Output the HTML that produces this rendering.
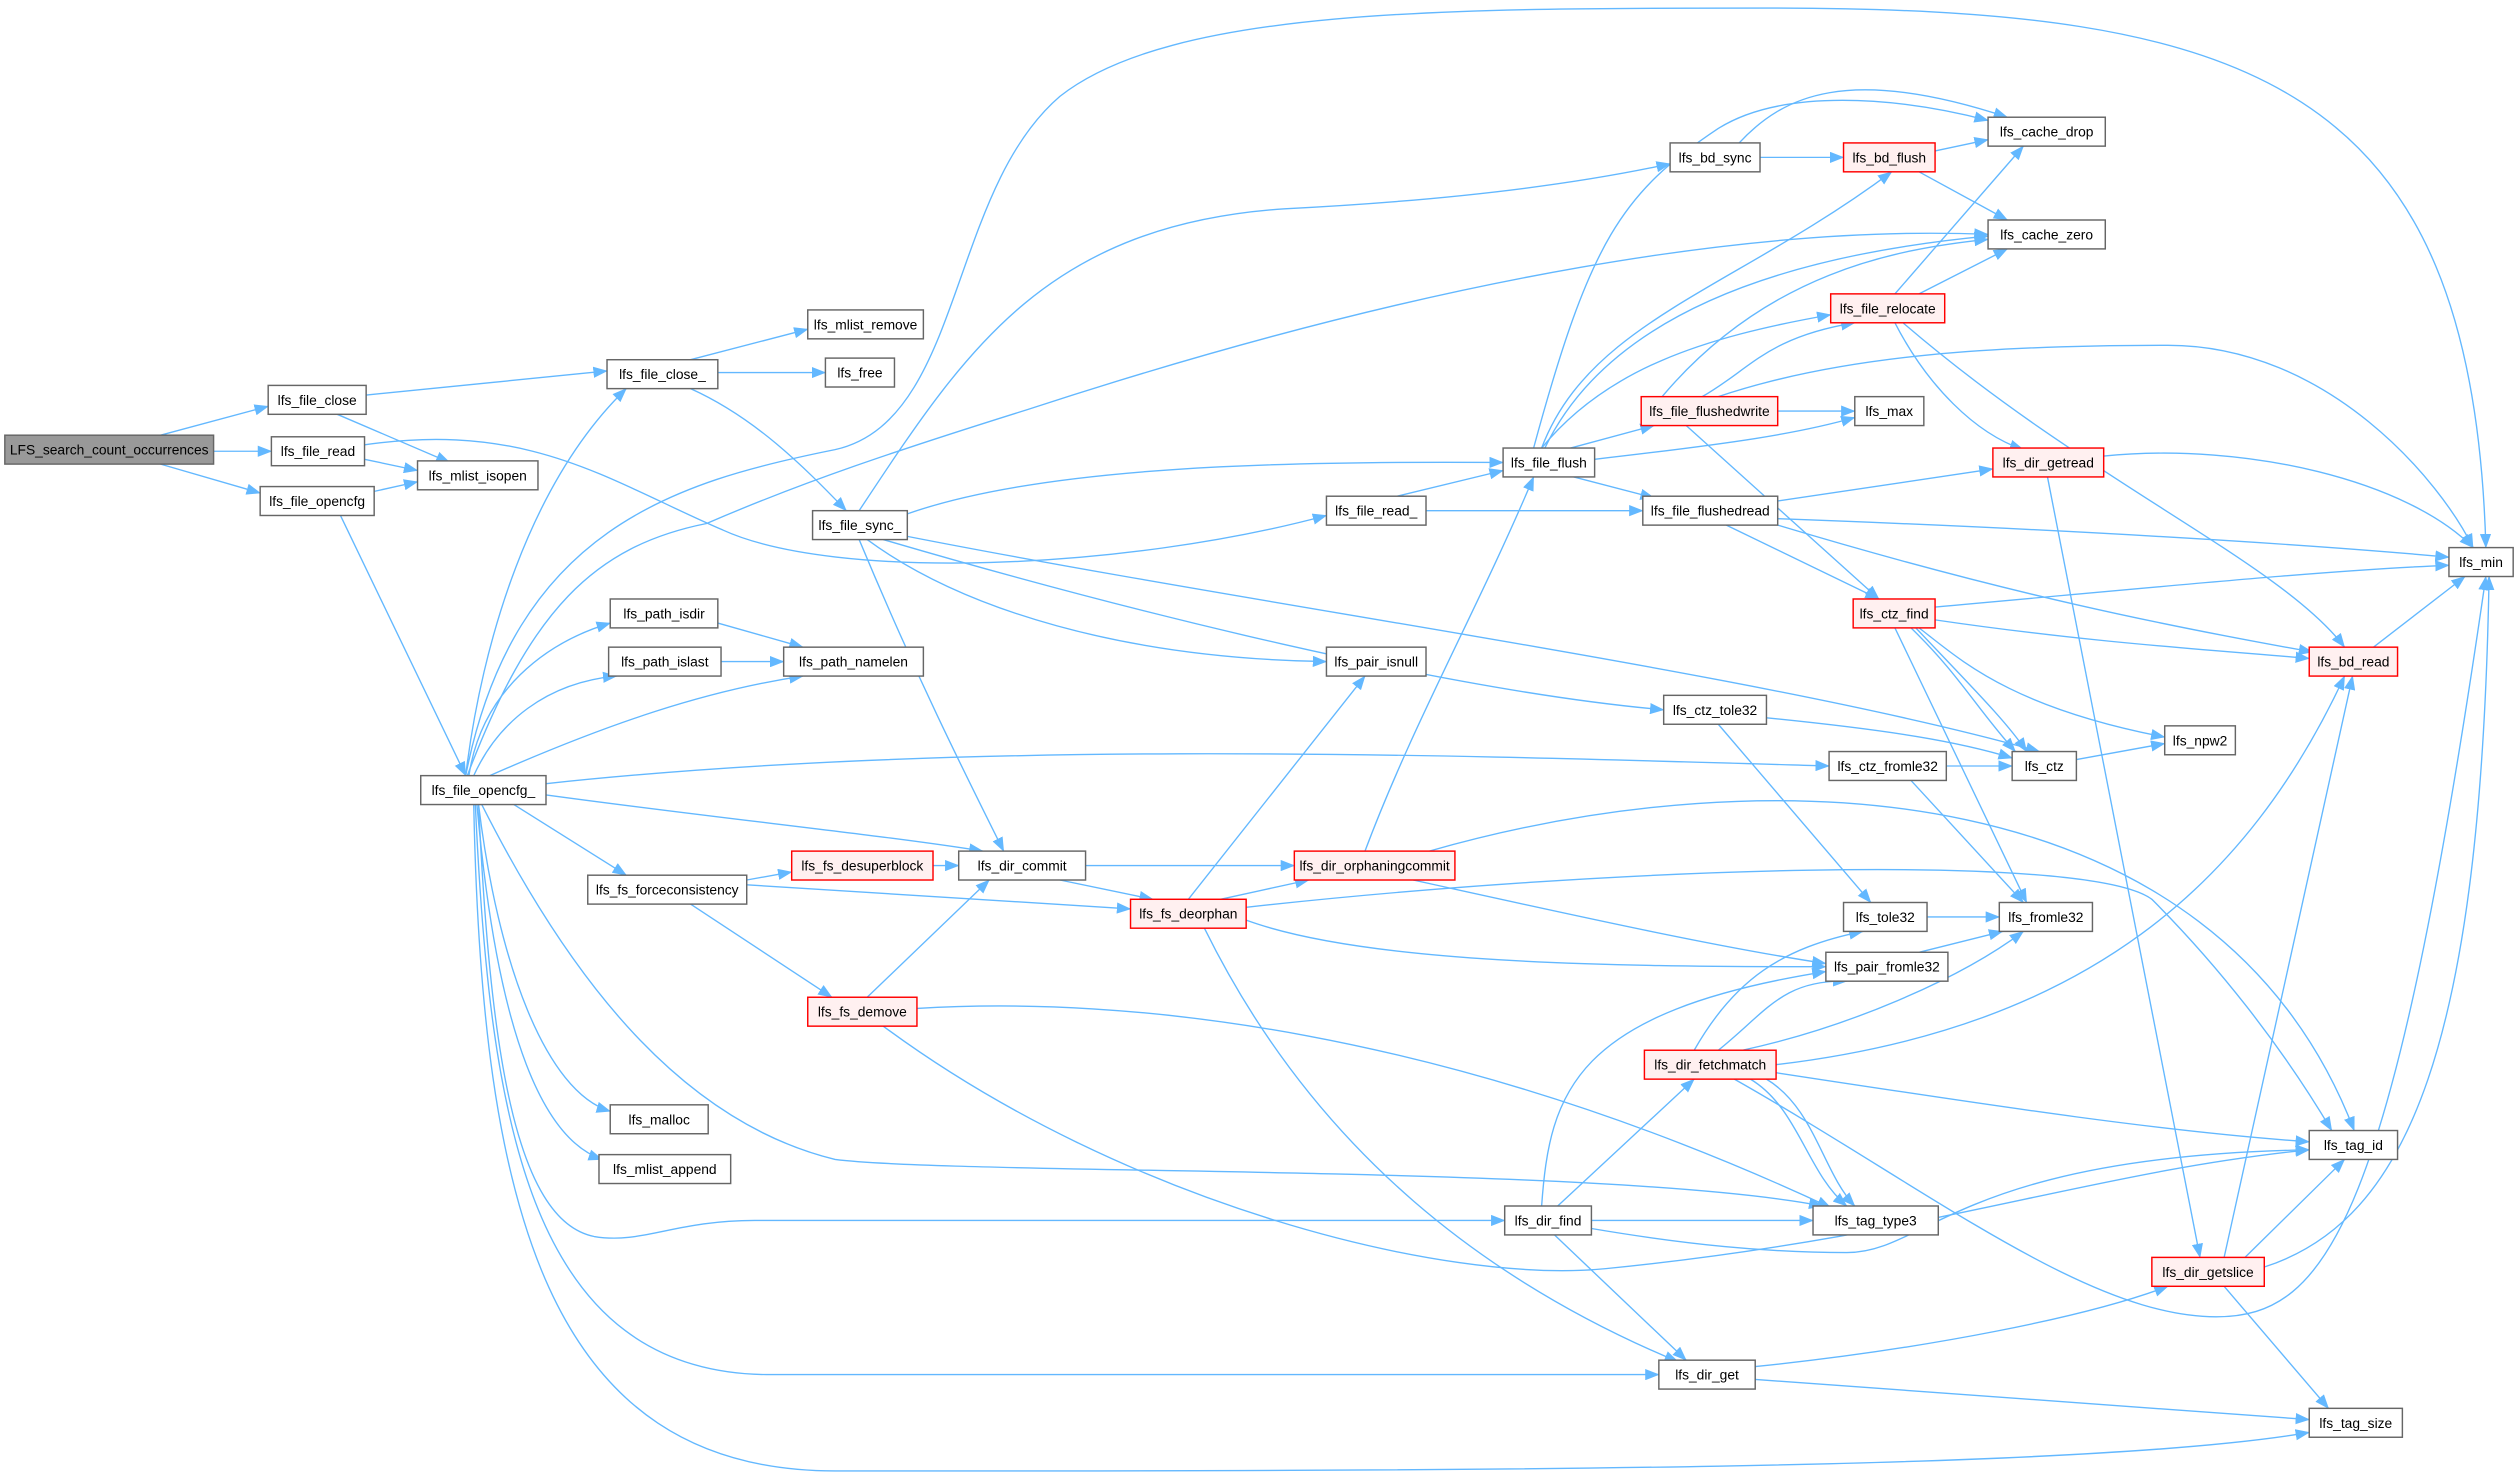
<!DOCTYPE html>
<html><head><meta charset="utf-8"><style>
html,body{margin:0;padding:0;background:#fff;}
svg{display:block;}
text{font-family:"Liberation Sans",Arial,sans-serif;font-size:8.6px;fill:#000;text-anchor:middle;dominant-baseline:central;}
.e{fill:none;stroke:#63b8ff;stroke-width:0.85;marker-end:url(#a);}
.n{fill:#fff;stroke:#666;stroke-width:0.9;}
.r{fill:#fff0f0;stroke:#ff0000;stroke-width:0.9;}
.g{fill:#999;stroke:#666;stroke-width:0.9;}
</style></head><body>
<svg width="2518" height="1479" viewBox="0 0 1568 921" xmlns="http://www.w3.org/2000/svg">
<defs><marker id="a" markerUnits="userSpaceOnUse" markerWidth="9" markerHeight="7" refX="8.5" refY="3.5" orient="auto"><path d="M0,0 L9,3.5 L0,7 z" fill="#63b8ff"/></marker></defs>
<g>
<path class="e" d="M100,271 L167,253"/>
<path class="e" d="M133,281 L169,281"/>
<path class="e" d="M100,289 L162,307"/>
<path class="e" d="M228,246 L378,231"/>
<path class="e" d="M210,258 L280,288"/>
<path class="e" d="M227,286 L260,293"/>
<path class="e" d="M227,277 C330,262 380,300 450,330 C520,362 700,355 826,321"/>
<path class="e" d="M233,306 L260,300"/>
<path class="e" d="M212,321 L290,483"/>
<path class="e" d="M430,224 L503,205"/>
<path class="e" d="M447,232 L514,232"/>
<path class="e" d="M430,242 C470,260 500,290 527,318"/>
<path class="e" d="M290,483 C300,400 330,300 390,242"/>
<path class="e" d="M290,483 C320,330 420,300 520,280 C600,262 590,120 660,60 C730,5 900,5 1100,5 C1400,5 1540,50 1548,341"/>
<path class="e" d="M291,483 C330,380 370,340 440,326 C500,300 560,280 640,255 C900,170 1100,140 1238,146"/>
<path class="e" d="M292,483 C300,430 340,400 380,388"/>
<path class="e" d="M295,483 C310,450 340,425 384,421"/>
<path class="e" d="M305,483 C380,450 440,430 500,421"/>
<path class="e" d="M447,388 L500,403"/>
<path class="e" d="M449,412 L488,412"/>
<path class="e" d="M340,488 C600,460 900,470 1139,477"/>
<path class="e" d="M340,495 C450,510 550,520 612,530"/>
<path class="e" d="M320,501 L390,545"/>
<path class="e" d="M298,501 C310,600 340,680 380,692"/>
<path class="e" d="M297,501 C310,650 340,710 375,722"/>
<path class="e" d="M300,501 C360,620 430,700 520,722 C600,732 1000,725 1135,751"/>
<path class="e" d="M298,501 C305,650 320,760 370,770 C400,775 420,760 470,760 L937,760"/>
<path class="e" d="M296,501 C305,700 330,856 480,856 L1033,856"/>
<path class="e" d="M295,501 C300,750 340,916 520,916 C900,916 1300,916 1438,892"/>
<path class="e" d="M465,548 L493,543"/>
<path class="e" d="M465,551 L704,566"/>
<path class="e" d="M430,563 L518,621"/>
<path class="e" d="M581,539 L597,539"/>
<path class="e" d="M676,539 L806,539"/>
<path class="e" d="M660,548 L718,560"/>
<path class="e" d="M760,560 L815,548"/>
<path class="e" d="M540,621 L616,548"/>
<path class="e" d="M850,530 C880,450 920,380 955,297"/>
<path class="e" d="M890,530 C1100,470 1380,480 1466,704"/>
<path class="e" d="M880,548 C980,570 1070,590 1137,600"/>
<path class="e" d="M740,560 L850,421"/>
<path class="e" d="M776,565 C1000,540 1300,530 1340,560 C1380,600 1420,650 1452,704"/>
<path class="e" d="M776,573 C850,600 1000,602 1137,602"/>
<path class="e" d="M750,578 C820,720 930,800 1045,848"/>
<path class="e" d="M571,628 C700,620 900,640 1140,752"/>
<path class="e" d="M550,639 C700,750 900,800 1000,790 C1200,770 1300,730 1438,716"/>
<path class="e" d="M535,318 C600,220 650,140 800,130 C900,125 980,115 1040,102"/>
<path class="e" d="M565,320 C650,290 800,287 936,288"/>
<path class="e" d="M540,336 C600,380 700,410 826,412"/>
<path class="e" d="M550,336 C700,380 900,430 1036,442"/>
<path class="e" d="M535,336 C570,420 600,480 625,530"/>
<path class="e" d="M565,334 C800,380 1100,420 1270,468"/>
<path class="e" d="M870,309 L936,293"/>
<path class="e" d="M888,318 L1023,318"/>
<path class="e" d="M960,279 C990,200 1080,180 1178,107"/>
<path class="e" d="M955,279 C990,150 1010,120 1070,80 C1110,55 1180,60 1238,75"/>
<path class="e" d="M962,279 C1000,200 1100,160 1238,147"/>
<path class="e" d="M960,279 C1000,230 1060,210 1140,196"/>
<path class="e" d="M978,279 L1030,265"/>
<path class="e" d="M993,286 C1080,276 1120,270 1155,260"/>
<path class="e" d="M980,297 L1030,310"/>
<path class="e" d="M1060,247 C1090,230 1100,210 1155,201"/>
<path class="e" d="M1035,247 C1100,170 1180,155 1238,149"/>
<path class="e" d="M1070,247 C1150,220 1250,215 1350,215 C1450,215 1520,300 1540,341"/>
<path class="e" d="M1107,256 L1155,256"/>
<path class="e" d="M1050,265 L1170,373"/>
<path class="e" d="M1083,89 C1110,60 1150,40 1250,73"/>
<path class="e" d="M1096,98 L1148,98"/>
<path class="e" d="M1205,94 L1238,87"/>
<path class="e" d="M1195,107 L1250,137"/>
<path class="e" d="M1180,183 L1260,91"/>
<path class="e" d="M1195,183 L1250,155"/>
<path class="e" d="M1180,201 C1200,240 1230,270 1260,280"/>
<path class="e" d="M1185,201 C1300,300 1420,350 1460,403"/>
<path class="e" d="M1107,312 L1241,292"/>
<path class="e" d="M1107,323 C1300,330 1450,340 1525,347"/>
<path class="e" d="M1075,327 L1170,373"/>
<path class="e" d="M1107,327 C1250,370 1350,390 1440,406"/>
<path class="e" d="M1310,284 C1400,275 1500,300 1540,341"/>
<path class="e" d="M1275,297 L1370,783"/>
<path class="e" d="M1205,378 C1350,365 1450,355 1525,352"/>
<path class="e" d="M1205,386 C1300,400 1380,405 1438,410"/>
<path class="e" d="M1195,391 C1220,410 1250,440 1348,459"/>
<path class="e" d="M1193,391 C1230,430 1250,450 1262,468"/>
<path class="e" d="M1190,391 C1220,420 1230,440 1255,468"/>
<path class="e" d="M1180,391 L1262,562"/>
<path class="e" d="M1478,403 L1535,359"/>
<path class="e" d="M1100,447 C1180,455 1220,462 1253,472"/>
<path class="e" d="M1070,451 L1165,562"/>
<path class="e" d="M1212,477 L1253,477"/>
<path class="e" d="M1190,486 L1260,562"/>
<path class="e" d="M1293,473 L1348,463"/>
<path class="e" d="M1200,571 L1245,571"/>
<path class="e" d="M1195,593 L1247,580"/>
<path class="e" d="M1055,654 C1080,610 1110,590 1160,580"/>
<path class="e" d="M1070,654 C1100,630 1110,610 1150,611"/>
<path class="e" d="M1085,654 C1150,640 1220,610 1260,580"/>
<path class="e" d="M1106,663 C1300,640 1400,550 1460,421"/>
<path class="e" d="M1106,668 C1250,690 1350,705 1438,711"/>
<path class="e" d="M1100,672 C1130,690 1135,730 1155,751"/>
<path class="e" d="M1090,672 C1120,690 1125,730 1150,751"/>
<path class="e" d="M1080,672 C1200,740 1300,820 1380,820 C1450,820 1490,760 1548,359"/>
<path class="e" d="M960,751 C965,680 980,630 1137,605"/>
<path class="e" d="M970,751 L1055,672"/>
<path class="e" d="M991,760 L1129,760"/>
<path class="e" d="M991,765 C1050,775 1100,780 1150,780 C1200,780 1220,720 1438,716"/>
<path class="e" d="M968,769 L1050,847"/>
<path class="e" d="M1093,851 C1200,840 1300,820 1350,801"/>
<path class="e" d="M1093,859 C1250,870 1380,880 1438,884"/>
<path class="e" d="M1398,783 L1460,722"/>
<path class="e" d="M1385,783 L1465,421"/>
<path class="e" d="M1410,789 C1500,760 1545,650 1550,359"/>
<path class="e" d="M1385,801 L1450,877"/>
</g>
<g>
<rect class="g" x="3" y="271" width="130" height="18"/><text x="68" y="280">LFS_search_count_occurrences</text>
<rect class="n" x="167" y="240" width="61" height="18"/><text x="197.5" y="249">lfs_file_close</text>
<rect class="n" x="169" y="272" width="58" height="18"/><text x="198" y="281">lfs_file_read</text>
<rect class="n" x="162" y="303" width="71" height="18"/><text x="197.5" y="312">lfs_file_opencfg</text>
<rect class="n" x="260" y="287" width="75" height="18"/><text x="297.5" y="296">lfs_mlist_isopen</text>
<rect class="n" x="378" y="224" width="69" height="18"/><text x="412.5" y="233">lfs_file_close_</text>
<rect class="n" x="503" y="193" width="72" height="18"/><text x="539" y="202">lfs_mlist_remove</text>
<rect class="n" x="514" y="223" width="43" height="18"/><text x="535.5" y="232">lfs_free</text>
<rect class="n" x="506" y="318" width="59" height="18"/><text x="535.5" y="327">lfs_file_sync_</text>
<rect class="n" x="380" y="373" width="67" height="18"/><text x="413.5" y="382">lfs_path_isdir</text>
<rect class="n" x="379" y="403" width="70" height="18"/><text x="414" y="412">lfs_path_islast</text>
<rect class="n" x="488" y="403" width="87" height="18"/><text x="531.5" y="412">lfs_path_namelen</text>
<rect class="n" x="262" y="483" width="78" height="18"/><text x="301" y="492">lfs_file_opencfg_</text>
<rect class="n" x="366" y="545" width="99" height="18"/><text x="415.5" y="554">lfs_fs_forceconsistency</text>
<rect class="r" x="493" y="530" width="88" height="18"/><text x="537" y="539">lfs_fs_desuperblock</text>
<rect class="n" x="597" y="530" width="79" height="18"/><text x="636.5" y="539">lfs_dir_commit</text>
<rect class="r" x="704" y="560" width="72" height="18"/><text x="740" y="569">lfs_fs_deorphan</text>
<rect class="r" x="806" y="530" width="100" height="18"/><text x="856" y="539">lfs_dir_orphaningcommit</text>
<rect class="r" x="503" y="621" width="68" height="18"/><text x="537" y="630">lfs_fs_demove</text>
<rect class="n" x="380" y="688" width="61" height="18"/><text x="410.5" y="697">lfs_malloc</text>
<rect class="n" x="373" y="719" width="82" height="18"/><text x="414" y="728">lfs_mlist_append</text>
<rect class="n" x="937" y="751" width="54" height="18"/><text x="964" y="760">lfs_dir_find</text>
<rect class="n" x="1033" y="847" width="60" height="18"/><text x="1063" y="856">lfs_dir_get</text>
<rect class="n" x="1040" y="89" width="56" height="18"/><text x="1068" y="98">lfs_bd_sync</text>
<rect class="r" x="1148" y="89" width="57" height="18"/><text x="1176.5" y="98">lfs_bd_flush</text>
<rect class="n" x="1238" y="73" width="73" height="18"/><text x="1274.5" y="82">lfs_cache_drop</text>
<rect class="n" x="1238" y="137" width="73" height="18"/><text x="1274.5" y="146">lfs_cache_zero</text>
<rect class="r" x="1140" y="183" width="71" height="18"/><text x="1175.5" y="192">lfs_file_relocate</text>
<rect class="r" x="1022" y="247" width="85" height="18"/><text x="1064.5" y="256">lfs_file_flushedwrite</text>
<rect class="n" x="1155" y="247" width="43" height="18"/><text x="1176.5" y="256">lfs_max</text>
<rect class="n" x="936" y="279" width="57" height="18"/><text x="964.5" y="288">lfs_file_flush</text>
<rect class="n" x="826" y="309" width="62" height="18"/><text x="857" y="318">lfs_file_read_</text>
<rect class="n" x="1023" y="309" width="84" height="18"/><text x="1065" y="318">lfs_file_flushedread</text>
<rect class="r" x="1241" y="279" width="69" height="18"/><text x="1275.5" y="288">lfs_dir_getread</text>
<rect class="n" x="1525" y="341" width="40" height="18"/><text x="1545" y="350">lfs_min</text>
<rect class="r" x="1154" y="373" width="51" height="18"/><text x="1179.5" y="382">lfs_ctz_find</text>
<rect class="r" x="1438" y="403" width="55" height="18"/><text x="1465.5" y="412">lfs_bd_read</text>
<rect class="n" x="826" y="403" width="62" height="18"/><text x="857" y="412">lfs_pair_isnull</text>
<rect class="n" x="1036" y="433" width="64" height="18"/><text x="1068" y="442">lfs_ctz_tole32</text>
<rect class="n" x="1139" y="468" width="73" height="18"/><text x="1175.5" y="477">lfs_ctz_fromle32</text>
<rect class="n" x="1253" y="468" width="40" height="18"/><text x="1273" y="477">lfs_ctz</text>
<rect class="n" x="1348" y="452" width="44" height="18"/><text x="1370" y="461">lfs_npw2</text>
<rect class="n" x="1148" y="562" width="52" height="18"/><text x="1174" y="571">lfs_tole32</text>
<rect class="n" x="1245" y="562" width="58" height="18"/><text x="1274" y="571">lfs_fromle32</text>
<rect class="n" x="1137" y="593" width="76" height="18"/><text x="1175" y="602">lfs_pair_fromle32</text>
<rect class="r" x="1024" y="654" width="82" height="18"/><text x="1065" y="663">lfs_dir_fetchmatch</text>
<rect class="n" x="1438" y="704" width="55" height="18"/><text x="1465.5" y="713">lfs_tag_id</text>
<rect class="n" x="1129" y="751" width="78" height="18"/><text x="1168" y="760">lfs_tag_type3</text>
<rect class="r" x="1340" y="783" width="70" height="18"/><text x="1375" y="792">lfs_dir_getslice</text>
<rect class="n" x="1438" y="877" width="58" height="18"/><text x="1467" y="886">lfs_tag_size</text>
</g>
</svg>
</body></html>
